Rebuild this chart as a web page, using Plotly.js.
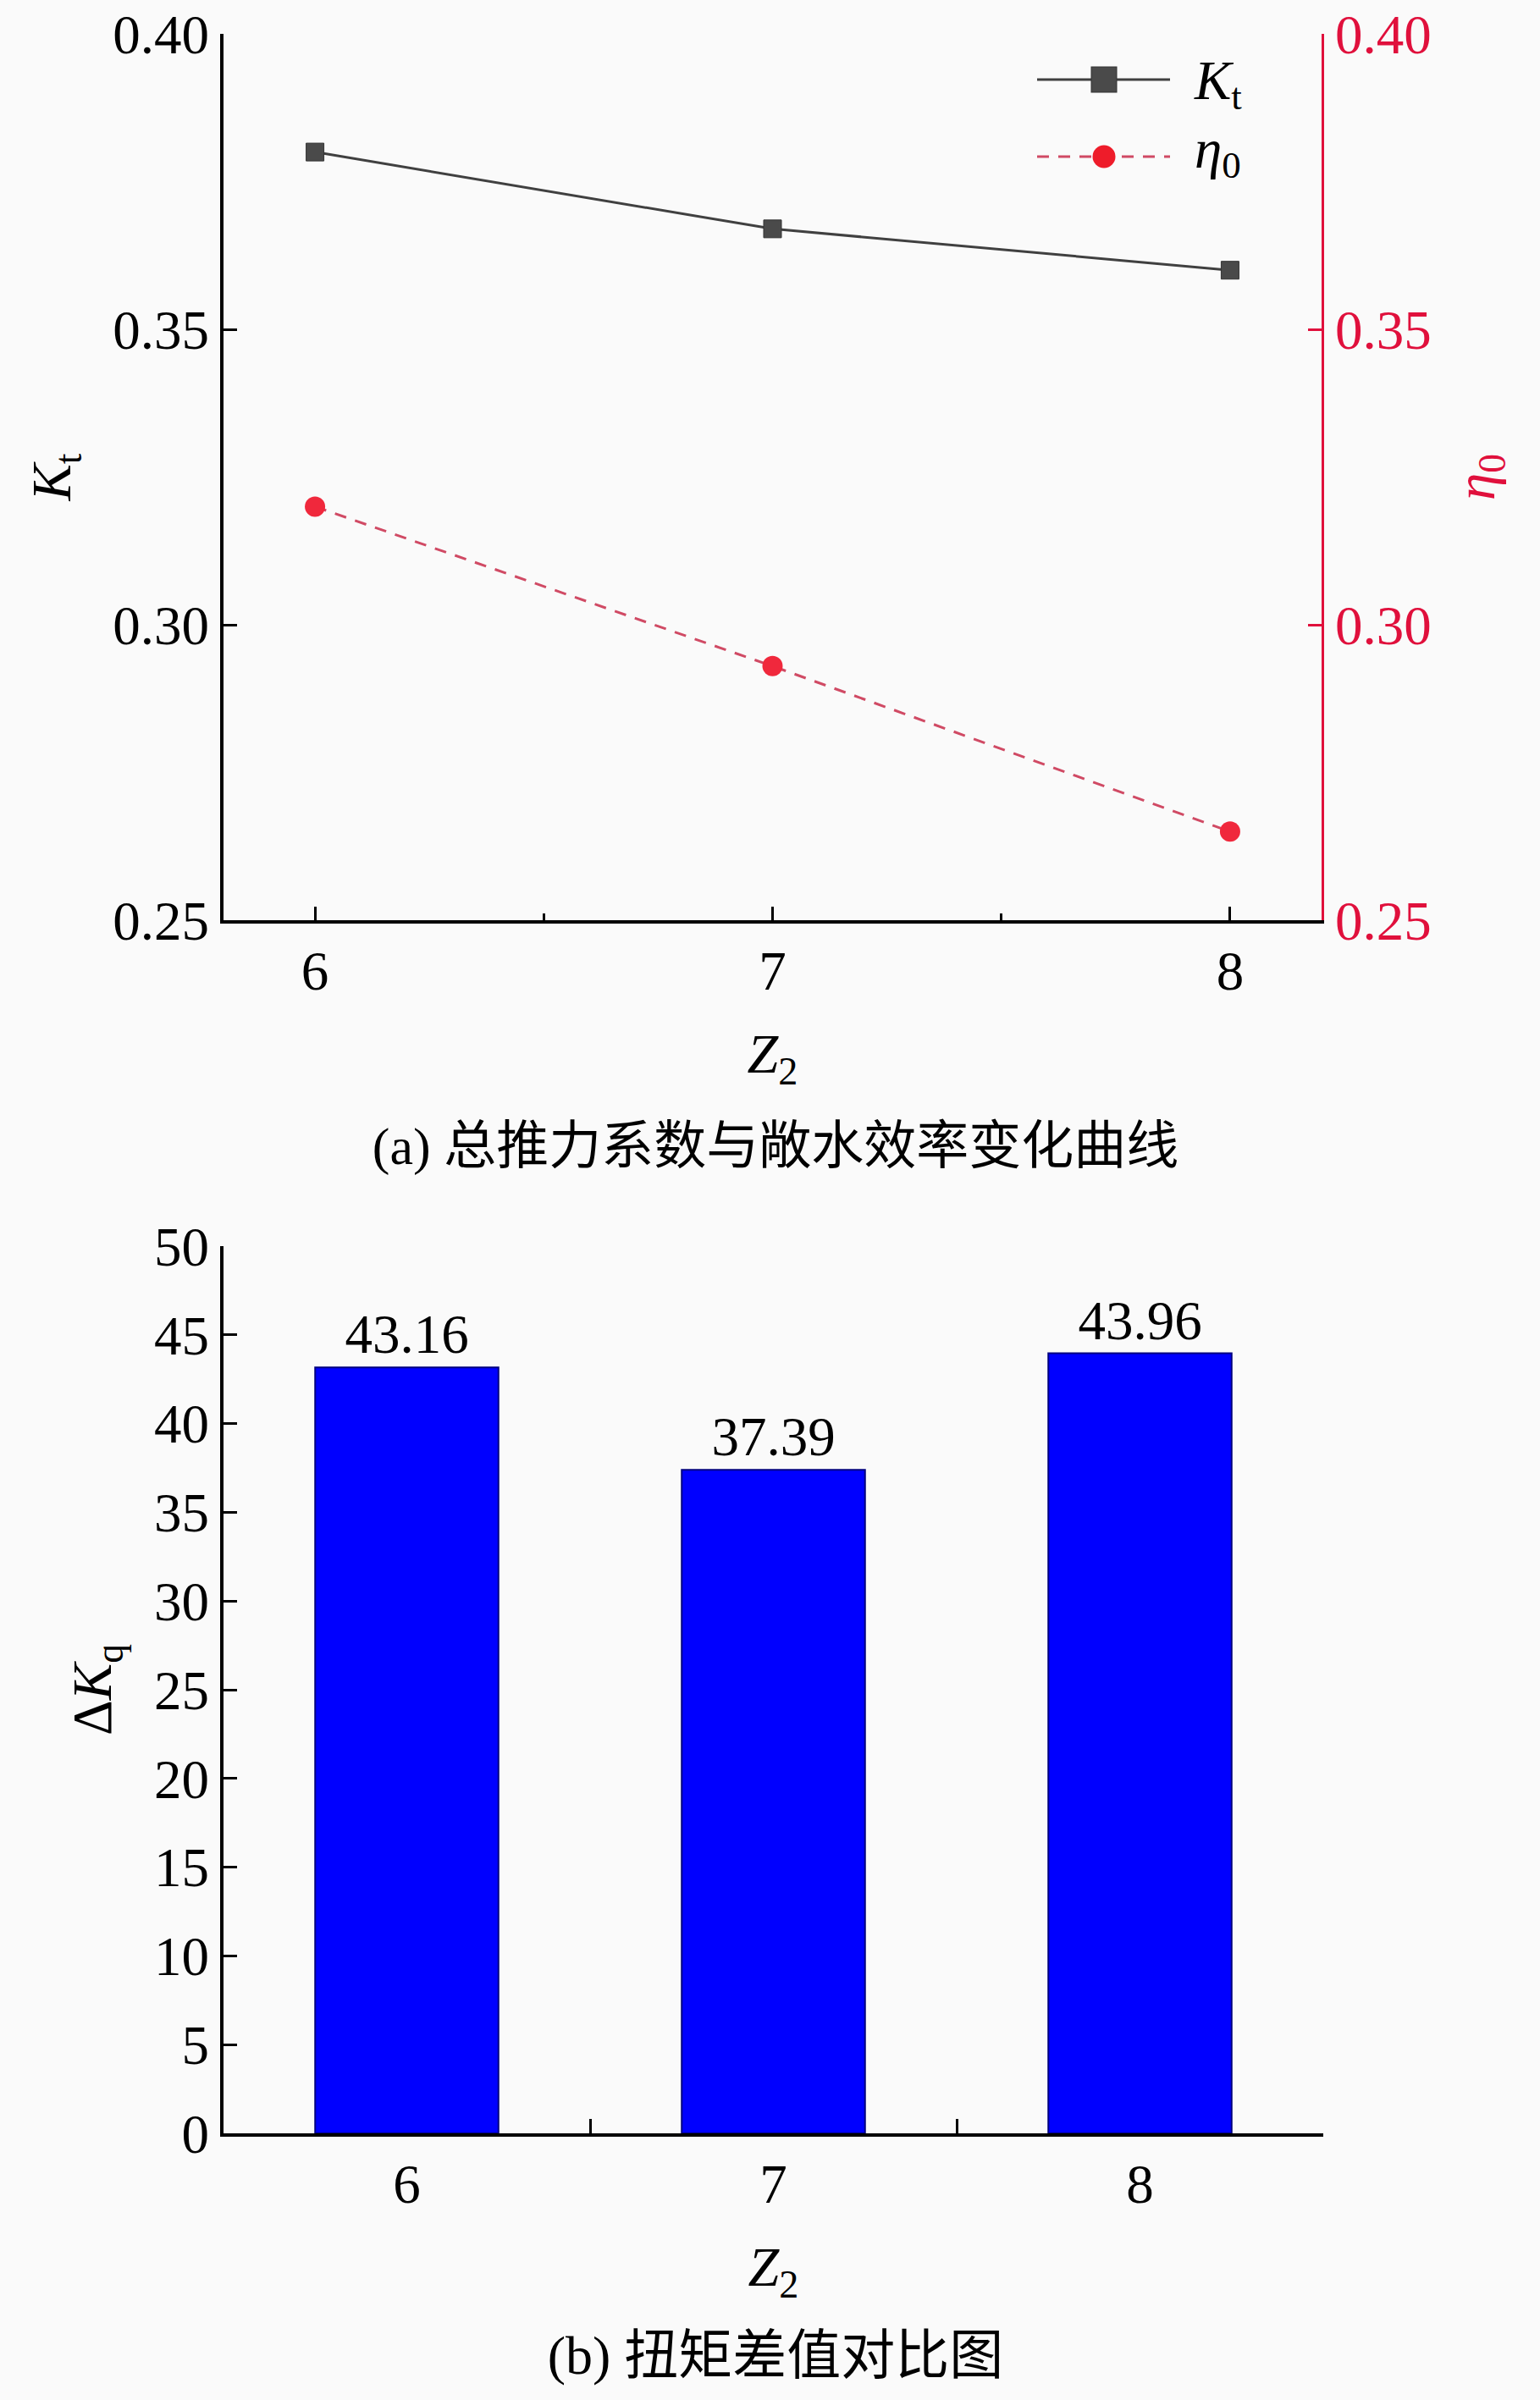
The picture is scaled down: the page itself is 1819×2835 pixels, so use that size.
<!DOCTYPE html>
<html>
<head>
<meta charset="utf-8">
<script src="https://cdn.plot.ly/plotly-3.0.1.min.js"></script>
<style>
  html, body { margin: 0; padding: 0; background: #fafafa; }
  #wrap { position: relative; width: 1819px; height: 2835px; }
  #chart { position: absolute; left: 0; top: 0; width: 1819px; height: 2835px; }
  #legend { position: absolute; left: 0; top: 0; pointer-events: none; }
  .caption {
    position: absolute;
    transform: translate(-50%, -50%);
    white-space: nowrap;
    line-height: 1;
    color: #000;
    font-family: 'Liberation Serif', 'Noto Sans CJK SC', serif;
  }
</style>
</head>
<body>
<div id="wrap">
  <div id="chart"></div>
  <!-- Легенда верхнього графіка: довгі лінії з маркером посередині. -->
  <svg id="legend" width="1819" height="260">
    <line x1="1225" x2="1382" y1="94" y2="94" stroke="#404040" stroke-width="3"></line>
    <rect x="1289" y="79" width="30" height="30" fill="#4a4a4a" stroke="#333333" stroke-width="1"></rect>
    <line x1="1225" x2="1382" y1="185" y2="185" stroke="#d04a64" stroke-width="3" stroke-dasharray="14 11"></line>
    <circle cx="1304" cy="185" r="13.5" fill="#ee1c2a"></circle>
    <text x="1411" y="117" font-family="'Liberation Serif', 'Times New Roman', serif" font-size="65" fill="#000"><tspan font-style="italic">K</tspan><tspan font-size="45" dy="12">t</tspan></text>
    <text x="1411" y="198" font-family="'Liberation Serif', 'Times New Roman', serif" font-size="65" fill="#000"><tspan font-style="italic">η</tspan><tspan font-size="45" dy="12">0</tspan></text>
  </svg>
  <div class="caption" style="left: 916px; top: 1354px; font-size: 62px;">(a) 总推力系数与敞水效率变化曲线</div>
  <div class="caption" style="left: 916px; top: 2783px; font-size: 64px;">(b) 扭矩差值对比图</div>
</div>
<script>
// Дані.
const z2 = [6, 7, 8];
const ktValues = [0.380, 0.367, 0.360];
const etaValues = [0.320, 0.293, 0.265];
const dkqCategories = ["6", "7", "8"];
const dkqValues = [43.16, 37.39, 43.96];
const dkqLabels = dkqValues.map((v) => v.toFixed(2));

const W = 1819;
const H = 2835;
// Переводимо пікселі в координати paper.
const px = (x) => x / W;
const py = (y) => 1 - y / H;

const FONT = "'Liberation Serif', 'Times New Roman', serif";
const RED = "#e0103c";

// Окремий об'єкт шрифту для кожного тексту.
const serif = (size, color = "#000") => ({ family: FONT, size: size, color: color });

// ==== Верхній графік: Kt та η0
const ktTrace = {
    x: z2,
    y: ktValues,
    xaxis: "x",
    yaxis: "y",
    mode: "lines+markers",
    type: "scatter",
    line: { color: "#404040", width: 3 },
    marker: { symbol: "square", size: 21, color: "#4a4a4a", line: { color: "#333333", width: 1 } },
    showlegend: false,
};
const etaTrace = {
    x: z2,
    y: etaValues,
    xaxis: "x",
    yaxis: "y3",
    mode: "lines+markers",
    type: "scatter",
    line: { color: "#d04a64", width: 3, dash: "14px,11px" },
    marker: { symbol: "circle", size: 24, color: "#f0283c" },
    showlegend: false,
};

// ==== Нижній графік: ΔKq
const dkqTrace = {
    x: dkqCategories,
    y: dkqValues,
    xaxis: "x2",
    yaxis: "y2",
    type: "bar",
    width: 0.5,
    marker: { color: "#0000ff", line: { color: "#000080", width: 2 } },
    text: dkqLabels,
    textposition: "outside",
    textfont: serif(65),
    cliponaxis: false,
    showlegend: false,
};

// Спільні налаштування осей.
const axisBase = () => ({
    showline: true,
    linewidth: 4,
    linecolor: "#000",
    showgrid: false,
    zeroline: false,
    ticks: "inside",
    ticklen: 16,
    tickwidth: 3,
    tickcolor: "#000",
    tickfont: serif(65),
});

const layout = {
    width: W,
    height: H,
    margin: { l: 0, r: 0, t: 0, b: 0 },
    paper_bgcolor: "#fafafa",
    plot_bgcolor: "#fafafa",
    font: serif(65),
    xaxis: Object.assign(axisBase(), {
        domain: [px(264), px(1561)],
        anchor: "y",
        range: [5.8, 8.2],
        tick0: 6,
        dtick: 1,
        minor: { ticks: "inside", ticklen: 8, tickwidth: 3, tickcolor: "#000", dtick: 0.5, tick0: 6 },
        title: { text: "<i>Z</i><sub>2</sub>", font: serif(66), standoff: 40 },
    }),
    yaxis: Object.assign(axisBase(), {
        domain: [py(1087), py(40)],
        anchor: "x",
        range: [0.25, 0.40],
        dtick: 0.05,
        tick0: 0.25,
        tickformat: ".2f",
        title: { text: "<i>K</i><sub>t</sub>", font: serif(65), standoff: 30 },
    }),
    yaxis3: Object.assign(axisBase(), {
        overlaying: "y",
        side: "right",
        anchor: "x",
        range: [0.25, 0.40],
        dtick: 0.05,
        tick0: 0.25,
        tickformat: ".2f",
        linecolor: RED,
        linewidth: 3,
        tickcolor: RED,
        tickfont: serif(65, RED),
        title: { text: "<i>η</i><sub>0</sub>", font: serif(65, RED), standoff: 30 },
    }),
    xaxis2: Object.assign(axisBase(), {
        domain: [px(264), px(1563)],
        anchor: "y2",
        type: "category",
        range: [-0.5, 2.5],
        tickson: "boundaries",
        ticklen: 17,
        title: { text: "<i>Z</i><sub>2</sub>", font: serif(66), standoff: 40 },
    }),
    yaxis2: Object.assign(axisBase(), {
        domain: [py(2520), py(1472)],
        anchor: "x2",
        range: [0, 50],
        dtick: 5,
        tick0: 0,
        title: { text: "Δ<i>K</i><sub>q</sub>", font: serif(65), standoff: 30 },
    }),
};

Plotly.newPlot("chart", [ktTrace, etaTrace, dkqTrace], layout, { staticPlot: true });
</script>
</body>
</html>
